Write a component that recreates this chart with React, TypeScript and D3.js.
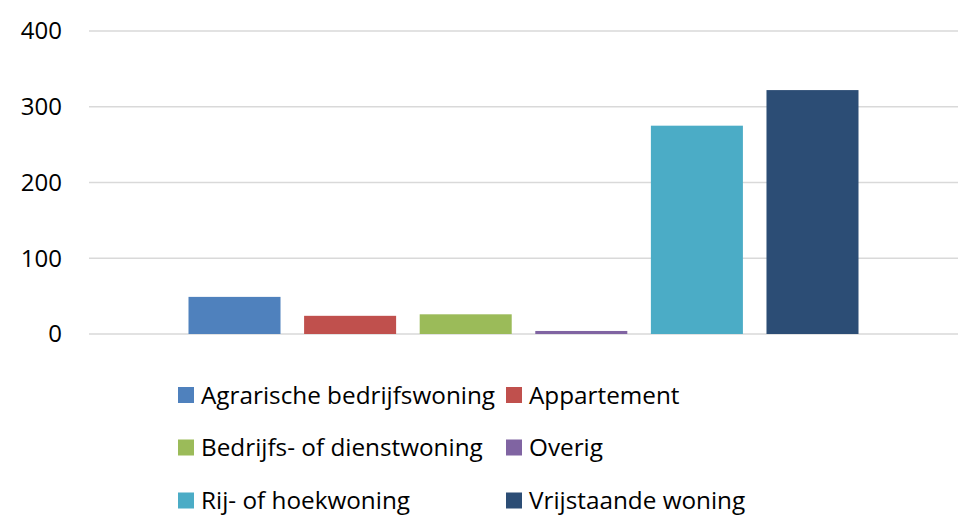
import React from 'react';
import * as d3 from 'd3';

// woningtypes (one series each, single category)
const series = [
  'Agrarische bedrijfswoning',
  'Appartement',
  'Bedrijfs- of dienstwoning',
  'Overig',
  'Rij- of hoekwoning',
  'Vrijstaande woning',
];
const values = [49, 24, 26, 4, 275, 322];
const colors = ['#4F81BD', '#C0504D', '#9BBB59', '#8064A2', '#4BACC6', '#2C4D75'];
const yTicks = [0, 100, 200, 300, 400];

const W = 966;
const H = 518;
const FONT = '"Open Sans", "Noto Sans", sans-serif';

export default function App() {
  const plot = { left: 89, right: 958, top: 31, bottom: 334 };

  const y = d3.scaleLinear().domain([0, 400]).range([plot.bottom, plot.top]);

  // bars are grouped in the middle of the plot area
  const groupW = (plot.right - plot.left) * 0.771;
  const mid = (plot.left + plot.right) / 2;
  const x = d3
    .scaleBand<string>()
    .domain(series)
    .range([mid - groupW / 2, mid + groupW / 2])
    .paddingInner(0.204)
    .paddingOuter(0);

  const legendCols = [178, 506];
  const legendRows = [395, 447.5, 500.5];

  return (
    <svg
      width={W}
      height={H}
      style={{ position: 'absolute', left: 0, top: 0, background: '#fff' }}
      fontFamily={FONT}
    >
      {yTicks.map((t) => (
        <g key={t}>
          <line
            x1={plot.left}
            x2={plot.right}
            y1={y(t)}
            y2={y(t)}
            stroke="#D9D9D9"
            strokeWidth={1.5}
          />
          <text
            x={62}
            y={y(t)}
            dy="0.35em"
            textAnchor="end"
            fontSize={24}
            fill="#000"
          >
            {t}
          </text>
        </g>
      ))}

      {series.map((s, i) => (
        <rect
          key={s}
          x={x(s)}
          width={x.bandwidth()}
          y={y(values[i])}
          height={y(0) - y(values[i])}
          fill={colors[i]}
        />
      ))}

      {series.map((s, i) => {
        const cx = legendCols[i % 2];
        const cy = legendRows[Math.floor(i / 2)];
        return (
          <g key={s}>
            <rect x={cx} y={cy - 8} width={16} height={16} fill={colors[i]} />
            <text x={cx + 23} y={cy} dy="0.35em" fontSize={24.3} fill="#000">
              {s}
            </text>
          </g>
        );
      })}
    </svg>
  );
}
